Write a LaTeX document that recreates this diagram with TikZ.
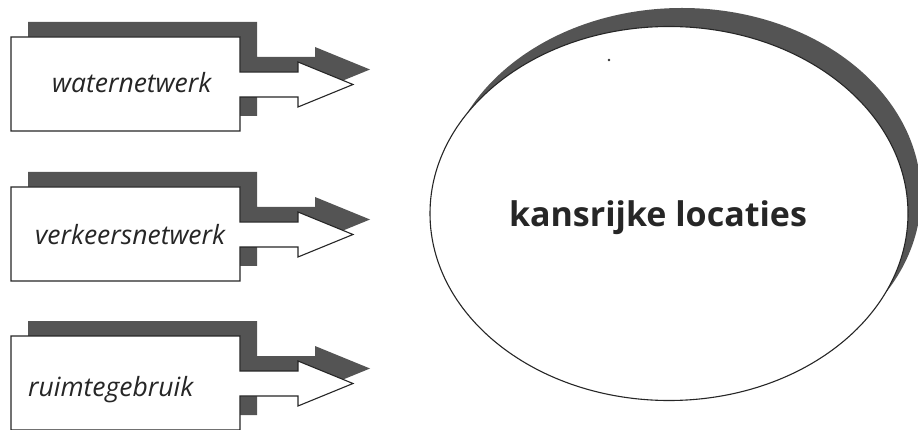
\documentclass[tikz,border=0pt]{standalone}
\usepackage{fontspec}
\setmainfont{Open Sans}
\usetikzlibrary{shapes.geometric}
\begin{document}
\begin{tikzpicture}[x=1pt,y=-1pt,
  shadowfill/.style={fill=black!67,draw=none},
  frontshape/.style={fill=white,draw=black!85,line width=1.1pt,line join=miter},
  labeltext/.style={inner sep=0pt,anchor=base west,font=\fontsize{26.5}{30}\selectfont\itshape,text=black!85},
  titletext/.style={inner sep=0pt,anchor=base,font=\fontsize{34}{40}\selectfont\bfseries,text=black!85}]
\useasboundingbox (0,0) rectangle (918,430);

% outline of a box with an arrow leaving its right side
\newcommand\blockoutline{%
  -- ++(229,0) -- ++(0,35) -- ++(58,0) -- ++(0,-10) -- ++(55,22.5)
  -- ++(-55,22.5) -- ++(0,-10) -- ++(-58,0) -- ++(0,34) -- ++(-229,0) -- cycle}
% input block with its drop shadow
\newcommand\inputblock[2]{%
  \coordinate (#1) at (11,#2);
  \fill[shadowfill] ([shift={(17,-15)}]#1) \blockoutline;
  \draw[frontshape] (#1) \blockoutline;
}

\inputblock{water}{37}
\node[labeltext] (waterlabel) at (52,93) {waternetwerk};

\inputblock{verkeer}{187}
\node[labeltext] (verkeerlabel) at (35,245) {verkeersnetwerk};

\inputblock{ruimte}{336}
\node[labeltext] (ruimtelabel) at (28,396) {ruimtegebruik};

% target: the ellipse with its crescent shadow
\fill[shadowfill] (682,195) ellipse [x radius=239, y radius=187];
\node[frontshape,ellipse,minimum width=478pt,minimum height=374pt,inner sep=0pt] (kans) at (669,213.5) {};
\node[titletext] (kanslabel) at (658,227) {kansrijke locaties};
\fill[black!80] (609,60) circle [radius=1.3];
\end{tikzpicture}
\end{document}
